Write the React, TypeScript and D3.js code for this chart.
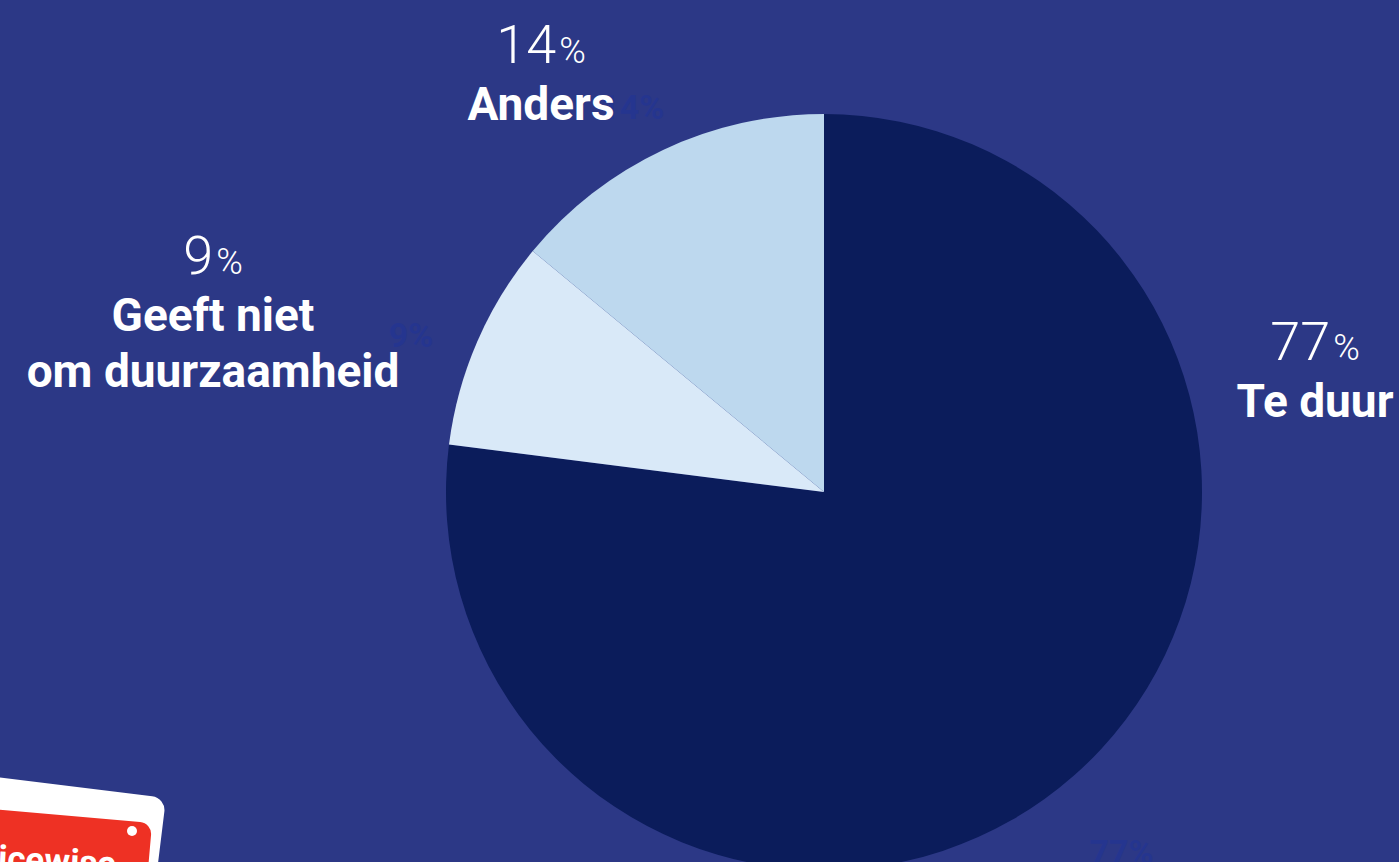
import React from "react";
import * as d3 from "d3";

const categories = ["Te duur", "Geeft niet om duurzaamheid", "Anders"];
const values = [77, 9, 14];
const colors = ["#0B1C5B", "#D9E9F8", "#BDD8EE"];
const labelLines = [["Te duur"], ["Geeft niet", "om duurzaamheid"], ["Anders"]];

const W = 1399;
const H = 862;
const cx = 824;
const cy = 492;
const R = 378;

// positions of the outside white labels (anchor centre x, number baseline y)
const outerLabelPos = [
  { x: 1315, y: 360 },
  { x: 213, y: 274 },
  { x: 541, y: 63 },
];

export default function App() {
  const pie = d3.pie<number>().sort(null).value((d) => d)(values);
  const arc = d3.arc<d3.PieArcDatum<number>>().innerRadius(0).outerRadius(R);
  const labelArc = d3.arc<d3.PieArcDatum<number>>().innerRadius(450).outerRadius(450);

  return (
    <svg
      width={W}
      height={H}
      style={{ position: "fixed", left: 0, top: 0, display: "block" }}
      fontFamily="Roboto, 'DejaVu Sans', sans-serif"
    >
      <rect width={W} height={H} fill="#2C3886" />
      <g transform={`translate(${cx},${cy})`}>
        {pie.map((p, i) => (
          <path key={i} d={arc(p) || ""} fill={colors[i]} />
        ))}
        {pie.map((p, i) => {
          const [x, y] = labelArc.centroid(p);
          return (
            <text
              key={"f" + i}
              x={x}
              y={y}
              dy="1em"
              textAnchor="middle"
              fontSize={34}
              fontWeight={700}
              fill="#25358F"
            >
              {values[i]}%
            </text>
          );
        })}
      </g>
      {categories.map((c, i) => {
        const pos = outerLabelPos[i];
        return (
          <g key={c} fill="#FFFFFF" textAnchor="middle">
            <text x={pos.x} y={pos.y} fontWeight={300}>
              <tspan fontSize={54}>{values[i]}</tspan>
              <tspan fontSize={36} dx={3}>%</tspan>
            </text>
            {labelLines[i].map((line, j) => (
              <text key={j} x={pos.x} y={pos.y + 57 + j * 56} fontSize={46} fontWeight={700}>
                {line}
              </text>
            ))}
          </g>
        );
      })}
      {/* logo */}
      <g>
        <rect x={-40} y={785} width={205} height={120} rx={14} fill="#FFFFFF" transform="rotate(7 60 800)" />
        <rect x={-60} y={815} width={212} height={110} rx={12} fill="#EE3124" transform="rotate(5 60 820)" />
        <circle cx={132} cy={831} r={5} fill="#FFFFFF" />
        <text x={-2} y={873} fontSize={35} fontWeight={700} fill="#FFFFFF" transform="rotate(3 60 860)">
          icewise
        </text>
      </g>
    </svg>
  );
}
